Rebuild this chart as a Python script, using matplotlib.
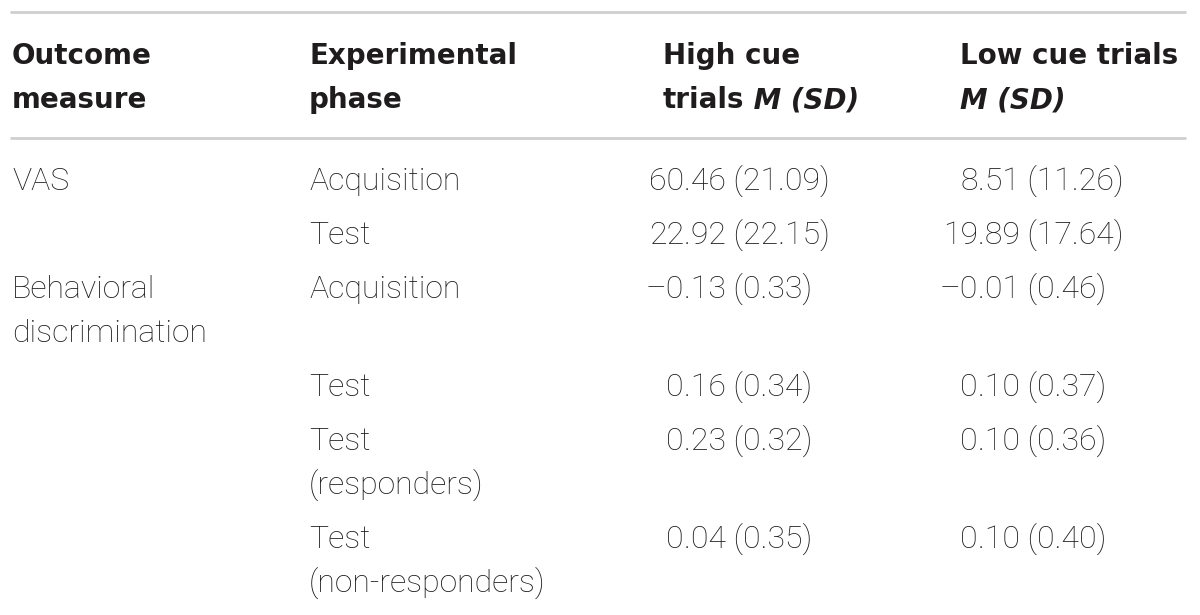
import matplotlib
matplotlib.use("Agg")
import matplotlib.pyplot as plt

outcome = ["VAS", "", "Behavioral\ndiscrimination", "", "", ""]
phase = ["Acquisition", "Test", "Acquisition", "Test",
         "Test\n(responders)", "Test\n(non-responders)"]
high_m = [60.46, 22.92, -0.13, 0.16, 0.23, 0.04]
high_sd = [21.09, 22.15, 0.33, 0.34, 0.32, 0.35]
low_m = [8.51, 19.89, -0.01, 0.10, 0.10, 0.10]
low_sd = [11.26, 17.64, 0.46, 0.37, 0.36, 0.40]

BODY = ["Roboto", "DejaVu Sans"]
HEAD = ["DejaVu Sans"]
ink = "#1e1c1d"
fs_body = 23
fs_head = 20
lead = 44      # line spacing inside a cell (px)
row_gap = 54   # baseline to baseline between rows (px)

fig = plt.figure(figsize=(12, 6.15), dpi=100)
ax = fig.add_axes([0, 0, 1, 1])
ax.set_xlim(0, 1200)
ax.set_ylim(615, 0)
ax.axis("off")

# rules
for y in (12, 138):
    ax.plot([10, 1186], [y, y], color="#cfcfcf", lw=2, solid_capstyle="butt")

# header
hkw = dict(fontsize=fs_head, fontweight="bold", family=HEAD, color=ink, va="baseline")
ax.text(12, 64, "Outcome", **hkw)
ax.text(12, 108, "measure", **hkw)
ax.text(309, 64, "Experimental", **hkw)
ax.text(309, 108, "phase", **hkw)
ax.text(663, 64, "High cue", **hkw)
t = ax.text(663, 108, "trials", **hkw)
ax.annotate(" M (SD)", xy=(1, 0), xycoords=t, va="bottom", ha="left",
            fontsize=fs_head, fontweight="bold", style="italic", family=HEAD, color=ink)
ax.text(960, 64, "Low cue trials", **hkw)
ax.text(960, 108, "M (SD)", style="italic", **hkw)

bkw = dict(fontsize=fs_body, fontweight="light", family=BODY, color=ink, va="baseline")


def num(m, sd):
    s = f"{m:.2f} ({sd:.2f})".replace("-", "\u2013")
    i = s.index(".")
    return s[:i], s[i:]


def put_num(x_dot, y, m, sd):
    a, b = num(m, sd)
    ax.text(x_dot, y, a, ha="right", **bkw)
    ax.text(x_dot, y, b, ha="left", **bkw)


y = 190
for k in range(len(phase)):
    for j, line in enumerate(outcome[k].split("\n")):
        ax.text(12, y + j * lead, line, **bkw)
    for j, line in enumerate(phase[k].split("\n")):
        ax.text(309, y + j * lead, line, **bkw)
    put_num(684, y, high_m[k], high_sd[k])
    put_num(978, y, low_m[k], low_sd[k])
    n = max(len(outcome[k].split("\n")), len(phase[k].split("\n")))
    y += row_gap + (n - 1) * lead

fig.savefig("out.png", dpi=100, facecolor="white")
